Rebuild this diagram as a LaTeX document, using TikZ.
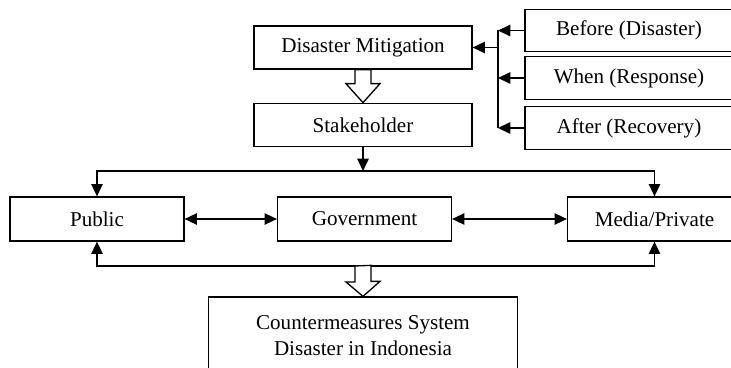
\documentclass[tikz,border=0pt]{standalone}
\usepackage{fontspec}
\setmainfont{Liberation Serif}
\usepackage{tikz}
\usetikzlibrary{arrows.meta, positioning}

\begin{document}
\begin{tikzpicture}[
            x=0.02cm, y=-0.02cm,
            line width=0.75pt,
            box/.style={draw, minimum width=4.36cm, minimum height=0.86cm, font=\fontsize{12}{14.7}\selectfont},
            phase/.style={box, minimum width=4.16cm, minimum height=0.85cm},
            actor/.style={box, minimum width=3.48cm, minimum height=0.88cm},
            arrow/.style={-{Triangle[length=7pt, width=6.5pt]}},
            dblarrow/.style={{Triangle[length=7pt, width=6.5pt]}-{Triangle[length=7pt, width=6.5pt]}},
            hollow/.style={draw, fill=white, line join=miter}
        ]
        \useasboundingbox (0,0) rectangle (731,368);

        % Mitigation and stakeholder
        \node[box] (dm) at (363,47.5) {Disaster Mitigation};
        \node[box, below=0.66cm of dm] (sh) {Stakeholder};
        \draw[hollow] (dm.south) ++(-8,0) -- ++(0,14) -- ++(-9,0) -- (sh.north) -- ++(17,-19) -- ++(-9,0) -- ++(0,-14) -- cycle;

        % Phases
        \node[phase] (before) at (629,30.5) {Before (Disaster)};
        \node[phase] (when) at (629,78) {When (Response)};
        \node[phase] (after) at (629,128) {After (Recovery)};
        \coordinate (bus) at (498,0);
        \draw[arrow] (before.west) -- (before.west -| bus);
        \draw[arrow] (when.west) -- (when.west -| bus);
        \draw[arrow] (after.west) -- (after.west -| bus);
        \draw (before.west -| bus) -- (after.west -| bus);
        \draw[arrow] (dm.east -| bus) -- (dm.east);

        % Actors
        \node[actor] (public) at (97,219) {Public};
        \node[actor] (gov) at (364.5,219) {Government};
        \node[actor] (media) at (654.5,219) {Media/Private};
        \draw[dblarrow] (public) -- (gov);
        \draw[dblarrow] (gov) -- (media);

        \coordinate (split) at (363,171);
        \draw[arrow] (sh.south) -- (split);
        \draw[arrow] (split) -| (public.north);
        \draw[arrow] (split) -| (media.north);

        \coordinate (join) at (363,266);
        \draw[arrow] (join) -| (public.south);
        \draw[arrow] (join) -| (media.south);

        % Result
        \node[box, minimum width=6.18cm, minimum height=1.56cm, align=center] (cms) at (363,336) {Countermeasures System\\Disaster in Indonesia};
        \draw[hollow] (join) ++(-8,0) -- ++(0,16) -- ++(-9,0) -- (cms.north) -- ++(17,-15) -- ++(-9,0) -- ++(0,-16) -- cycle;
    \end{tikzpicture}
\end{document}
